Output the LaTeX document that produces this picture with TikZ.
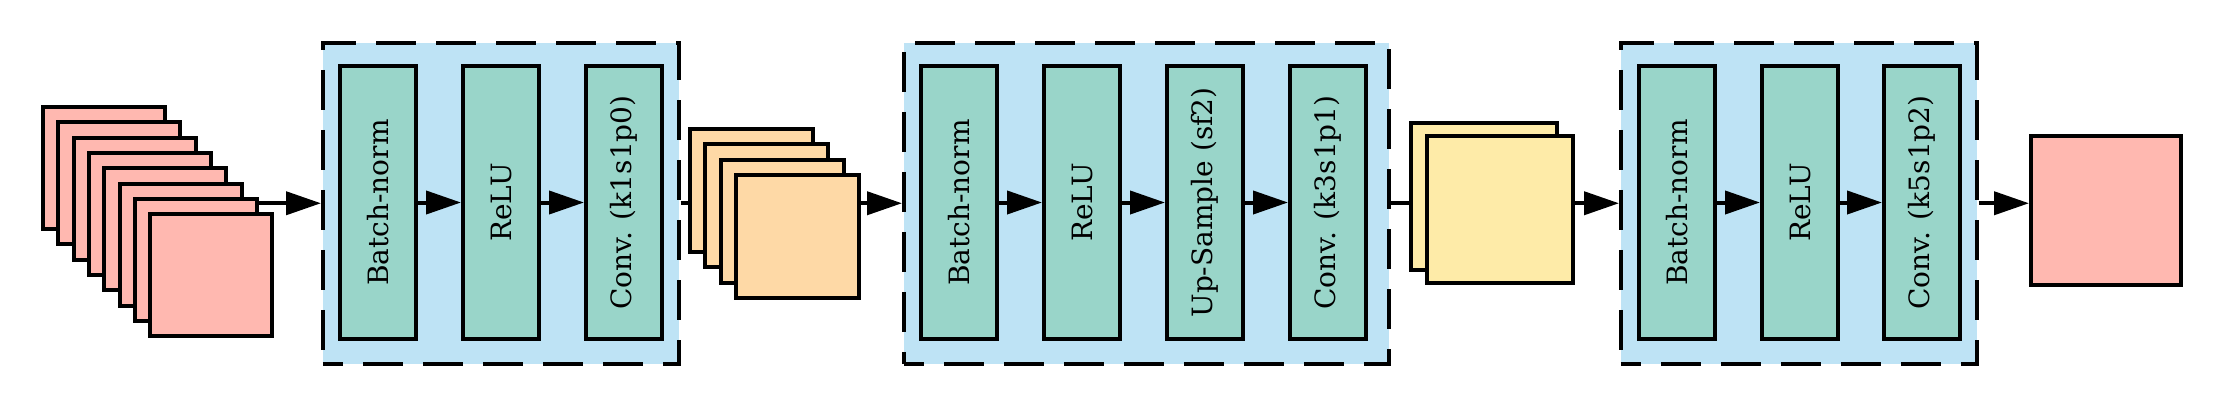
\documentclass[tikz,border=0pt]{standalone}
\usepackage{fontspec}
\setmainfont{DejaVu Serif}
\usepackage{graphicx}
\usetikzlibrary{arrows.meta}
\definecolor{cpink}{HTML}{FFB8B0}
\definecolor{corange}{HTML}{FED9A6}
\definecolor{cyellow}{HTML}{FEEBA8}
\definecolor{cgreen}{HTML}{99D5C9}
\definecolor{cblue}{HTML}{BEE3F5}
\tikzset{
  fmap/.style={draw=black, line width=4pt, rectangle, inner sep=0pt, anchor=north west},
  pinkmap/.style={fmap, fill=cpink, minimum width=122pt, minimum height=122pt},
  orangemap/.style={fmap, fill=corange, minimum width=123pt, minimum height=123pt},
  yellowmap/.style={fmap, fill=cyellow, minimum width=146pt, minimum height=147pt},
  outmap/.style={fmap, fill=cpink, minimum width=150pt, minimum height=149pt},
  blockbox/.style={draw=black, fill=cblue, line width=3.5pt, dash pattern=on 40pt off 20pt, dash phase=20pt, rectangle, inner sep=0pt, anchor=north west},
  opbox/.style={draw=black, fill=cgreen, line width=4pt, rectangle, inner sep=0pt, anchor=north west, minimum width=76pt, minimum height=273pt, font=\fontsize{28}{32}\selectfont},
  conn/.style={line width=4pt},
  arr/.style={conn, -{Triangle[length=35pt, width=23pt]}},
}
\begin{document}
\begin{tikzpicture}[x=1pt, y=-1pt]
\useasboundingbox (0,0) rectangle (2217,400);
% blocks
\node[blockbox, minimum width=356pt, minimum height=321pt] (b1) at (321,41) {};
\node[blockbox, minimum width=485pt, minimum height=321pt] (b2) at (902,41) {};
\node[blockbox, minimum width=356pt, minimum height=321pt] (b3) at (1619,41) {};
% input stack
\foreach \i in {0,...,7} {
  \node[pinkmap] (p\i) at ({41+15.3*\i},{105+15.3*\i}) {};
}
% block 1 ops
\node[opbox] (a1) at (338,64) {\rotatebox{90}{Batch-norm}};
\node[opbox] (a2) at (461,64) {\rotatebox{90}{ReLU}};
\node[opbox] (a3) at (584,64) {\rotatebox{90}{Conv. (k1s1p0)}};
% orange stack
\foreach \i in {0,...,3} {
  \node[orangemap] (o\i) at ({688+15.3*\i},{127+15.3*\i}) {};
}
% block 2 ops
\node[opbox] (c1) at (919,64) {\rotatebox{90}{Batch-norm}};
\node[opbox] (c2) at (1042,64) {\rotatebox{90}{ReLU}};
\node[opbox] (c3) at (1165,64) {\rotatebox{90}{Up-Sample (sf2)}};
\node[opbox] (c4) at (1288,64) {\rotatebox{90}{Conv. (k3s1p1)}};
% yellow stack
\node[yellowmap] (y0) at (1409,121) {};
\node[yellowmap] (y1) at (1425,134) {};
% block 3 ops
\node[opbox] (d1) at (1637,64) {\rotatebox{90}{Batch-norm}};
\node[opbox] (d2) at (1760,64) {\rotatebox{90}{ReLU}};
\node[opbox] (d3) at (1882,64) {\rotatebox{90}{Conv. (k5s1p2)}};
% output
\node[outmap] (out) at (2029,134) {};
% connectors
\draw[arr] (p6.east |- b1.west) -- (b1.west);
\draw[arr] (a1.east) -- (a2.west);
\draw[arr] (a2.east) -- (a3.west);
\draw[conn] (b1.east) -- (o0.west |- b1.east);
\draw[arr] (o3.east |- b2.west) -- (b2.west);
\draw[arr] (c1.east) -- (c2.west);
\draw[arr] (c2.east) -- (c3.west);
\draw[arr] (c3.east) -- (c4.west);
\draw[conn] (b2.east) -- (y0.west |- b2.east);
\draw[arr] (y1.east |- b3.west) -- (b3.west);
\draw[arr] (d1.east) -- (d2.west);
\draw[arr] (d2.east) -- (d3.west);
\draw[arr] (b3.east) -- (out.west |- b3.east);
\end{tikzpicture}
\end{document}
